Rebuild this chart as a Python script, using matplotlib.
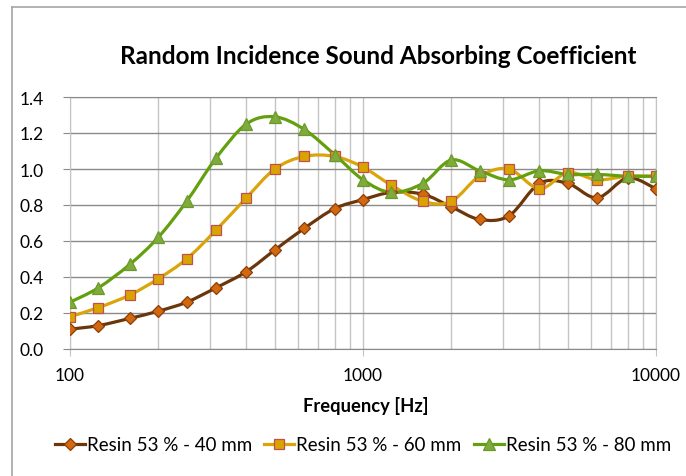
import numpy as np
import matplotlib
matplotlib.use('Agg')
import matplotlib.pyplot as plt
from matplotlib.path import Path
from matplotlib.patches import PathPatch
from matplotlib.lines import Line2D
from matplotlib.ticker import FixedLocator, FuncFormatter, NullFormatter

# dados (1/3 octave bands)
freq = [100, 125, 160, 200, 250, 315, 400, 500, 630, 800, 1000,
        1250, 1600, 2000, 2500, 3150, 4000, 5000, 6300, 8000, 10000]
resin_40 = [0.11, 0.13, 0.17, 0.21, 0.26, 0.34, 0.43, 0.55, 0.67, 0.78, 0.83,
            0.87, 0.86, 0.79, 0.72, 0.74, 0.92, 0.92, 0.84, 0.95, 0.89]
resin_60 = [0.18, 0.23, 0.30, 0.39, 0.50, 0.66, 0.84, 1.00, 1.07, 1.07, 1.01,
            0.91, 0.82, 0.82, 0.96, 1.00, 0.89, 0.98, 0.94, 0.96, 0.96]
resin_80 = [0.26, 0.34, 0.47, 0.62, 0.82, 1.06, 1.25, 1.29, 1.22, 1.08, 0.94,
            0.87, 0.92, 1.05, 0.99, 0.94, 0.99, 0.97, 0.97, 0.96, 0.96]
labels = ['Resin 53 % - 40 mm', 'Resin 53 % - 60 mm', 'Resin 53 % - 80 mm']

styles = [
    dict(line='#6a360a', marker='D', face='#d2690e', edge='#8b3d0a', ms=6),
    dict(line='#d9a50a', marker='s', face='#d9a400', edge='#c0504d', ms=7),
    dict(line='#63a00e', marker='^', face='#7faa3c', edge='#6c9a2a', ms=8),
]

plt.rcParams['font.family'] = ['Lato', 'DejaVu Sans']


def smooth_path(x, y):
    # excel-like smoothed line: catmull-rom bezier in (log x, y)
    pts = np.column_stack([np.log10(x), np.asarray(y, float)])
    ext = np.vstack([pts[0], pts, pts[-1]])
    verts = [pts[0]]
    codes = [Path.MOVETO]
    for i in range(len(pts) - 1):
        p0, p1, p2, p3 = ext[i], ext[i + 1], ext[i + 2], ext[i + 3]
        verts += [p1 + (p2 - p0) / 6, p2 - (p3 - p1) / 6, p2]
        codes += [Path.CURVE4] * 3
    verts = np.array(verts)
    verts[:, 0] = 10 ** verts[:, 0]
    return Path(verts, codes)


W, H = 686, 477
fig = plt.figure(figsize=(W / 100, H / 100), dpi=100)
ax = fig.add_axes([70 / W, 1 - 350 / H, 586 / W, 252 / H])

handles = []
for vals, st, lab in zip([resin_40, resin_60, resin_80], styles, labels):
    ax.add_patch(PathPatch(smooth_path(freq, vals), fill=False,
                           edgecolor=st['line'], lw=2.3, zorder=3))
    ax.plot(freq, vals, linestyle='none', marker=st['marker'], ms=st['ms'],
            mfc=st['face'], mec=st['edge'], mew=0.9, zorder=4)
    handles.append(Line2D([], [], color=st['line'], lw=2.3, marker=st['marker'],
                          ms=st['ms'], mfc=st['face'], mec=st['edge'], mew=0.9))

ax.set_xscale('log')
ax.set_xlim(100, 10000)
ax.set_ylim(0, 1.4)
ax.set_yticks(np.arange(0, 1.41, 0.2))
ax.yaxis.set_major_formatter(FuncFormatter(lambda v, p: f'{v:.1f}'))
ax.xaxis.set_major_locator(FixedLocator([100, 1000, 10000]))
ax.xaxis.set_major_formatter(FuncFormatter(lambda v, p: f'{v:.0f}'))
minors = [m * d for d in (100, 1000) for m in range(2, 10)]
ax.xaxis.set_minor_locator(FixedLocator(minors))
ax.xaxis.set_minor_formatter(NullFormatter())

ax.grid(True, axis='x', which='both', color='#c4c4c4', lw=1.0)
ax.grid(True, axis='y', which='major', color='#8a8a8a', lw=1.0)
ax.set_axisbelow(True)
for s in ['top', 'bottom']:
    ax.spines[s].set_color('#8a8a8a')
for s in ['left', 'right']:
    ax.spines[s].set_color('#c4c4c4')
ax.tick_params(axis='both', which='major', length=5, color='#8a8a8a',
               labelsize=12.5, labelcolor='#000000')
ax.tick_params(axis='x', which='major', pad=8, color='#c4c4c4')
ax.tick_params(axis='y', which='major', pad=14)
ax.tick_params(axis='x', which='minor', length=0)

fig.text(378 / W, 1 - 56 / H, 'Random Incidence Sound Absorbing Coefficient',
         ha='center', va='center', fontsize=17.5, fontweight='bold')
fig.text(366 / W, 1 - 406 / H, 'Frequency [Hz]', ha='center', va='center',
         fontsize=13.2, fontweight='bold')

fig.legend(handles, labels, loc='center', bbox_to_anchor=(363 / W, 1 - 446 / H),
           ncol=3, frameon=False, fontsize=13.5, handlelength=1.6,
           handletextpad=0.1, columnspacing=0.65)

# chart area border (cut at right/bottom)
fig.add_artist(Line2D([12 / W, 1], [1 - 8 / H, 1 - 8 / H], color='#a6a6a6', lw=1.2))
fig.add_artist(Line2D([12 / W, 12 / W], [0, 1 - 8 / H], color='#a6a6a6', lw=1.2))

fig.savefig('out.png', dpi=100)
